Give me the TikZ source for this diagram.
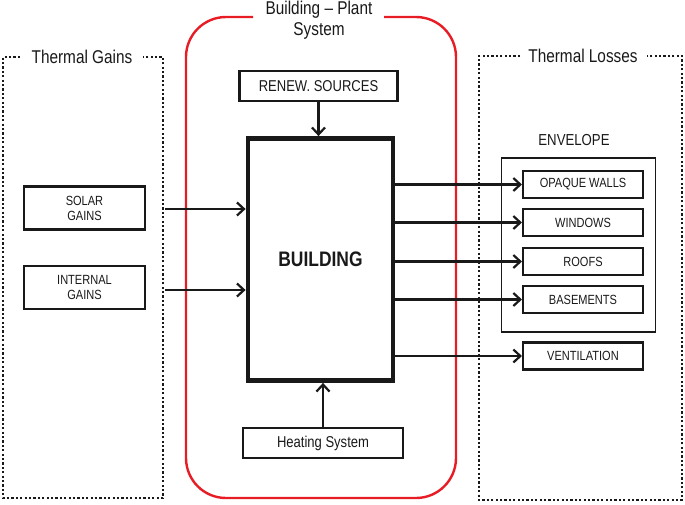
\documentclass[tikz,border=0pt]{standalone}
\usepackage{fontspec}
\setmainfont{Liberation Sans}[FakeStretch=0.83]
\usetikzlibrary{arrows.meta}
\definecolor{redline}{RGB}{232,28,36}
\definecolor{ink}{RGB}{25,25,25}
\tikzset{
  boxn/.style={draw=ink, line width=2.1pt, rectangle, inner sep=0pt, text=ink, align=center},
  smalltxt/.style={font=\fontsize{13.3}{15}\selectfont},
  midtxt/.style={font=\fontsize{15.7}{18}\selectfont},
  titletxt/.style={font=\fontsize{18.5}{21}\selectfont, text=ink, align=center, inner sep=0pt},
  arr/.style={draw=ink, line width=2.2pt, -{Straight Barb[length=7pt,width=13pt]}},
  dotbox/.style={draw=ink, line width=2.2pt, dash pattern=on 2.2pt off 2.2pt},
  redbox/.style={draw=redline, line width=2.4pt, rounded corners=40pt},
}
\begin{document}
\begin{tikzpicture}[x=1pt,y=-1pt]
\useasboundingbox (0,0) rectangle (685,504);
% dotted boxes
\draw[dotbox] (20,57) -- (3,57) -- (3,498) -- (163,498) -- (163,57) -- (143,57);
\node[titletxt] (tg) at (82,57) {Thermal Gains};
\draw[dotbox] (520,56) -- (479,56) -- (479,500) -- (682,500) -- (682,56) -- (647,56);
\node[titletxt] (tl) at (583,56) {Thermal Losses};
% red system box
\draw[redbox] (253,17) -- (186,17) -- (186,498) -- (456,498) -- (456,17) -- (384,17);
\node[titletxt] (sys) at (319,20) {Building -- Plant\\System};
% left boxes
\node[boxn, smalltxt, minimum width=121pt, minimum height=43pt] (solar) at (84.5,208) {SOLAR\\GAINS};
\node[boxn, smalltxt, minimum width=121pt, minimum height=43pt] (internal) at (84.5,287.5) {INTERNAL\\GAINS};
% center
\node[boxn, midtxt, minimum width=158pt, minimum height=30pt] (renew) at (318.5,86) {RENEW. SOURCES};
\node[boxn, line width=4.8pt, minimum width=145pt, minimum height=242pt, font=\fontsize{21}{23}\bfseries\selectfont] (building) at (320.5,259.5) {BUILDING};
\node[boxn, midtxt, minimum width=160pt, minimum height=30pt] (heating) at (323,443) {Heating System};
% envelope
\node[titletxt, font=\fontsize{15.9}{18}\selectfont] (envlabel) at (574,140) {ENVELOPE};
\node[boxn, line width=1.7pt, minimum width=154pt, minimum height=174pt] (envelope) at (578.5,245) {};
\node[boxn, smalltxt, minimum width=120pt, minimum height=27pt] (opaque) at (583,184.5) {OPAQUE WALLS};
\node[boxn, smalltxt, minimum width=120pt, minimum height=27pt] (windows) at (583,222.5) {WINDOWS};
\node[boxn, smalltxt, minimum width=120pt, minimum height=27pt] (roofs) at (583,261.5) {ROOFS};
\node[boxn, smalltxt, minimum width=120pt, minimum height=27pt] (basements) at (583,299.5) {BASEMENTS};
\node[boxn, smalltxt, minimum width=120pt, minimum height=27pt] (vent) at (583,356) {VENTILATION};
% connectors
\coordinate (gin1) at (165,209);
\coordinate (gin2) at (165,290);
\draw[arr] (gin1) -- (gin1 -| building.west);
\draw[arr] (gin2) -- (gin2 -| building.west);
\draw[arr] (renew.south) -- (renew.south |- building.north);
\draw[arr] (heating.north) -- (heating.north |- building.south);
\foreach \t in {opaque,windows,roofs,basements,vent}
  \draw[arr] (building.east |- \t.west) -- (\t.west);
\end{tikzpicture}
\end{document}
